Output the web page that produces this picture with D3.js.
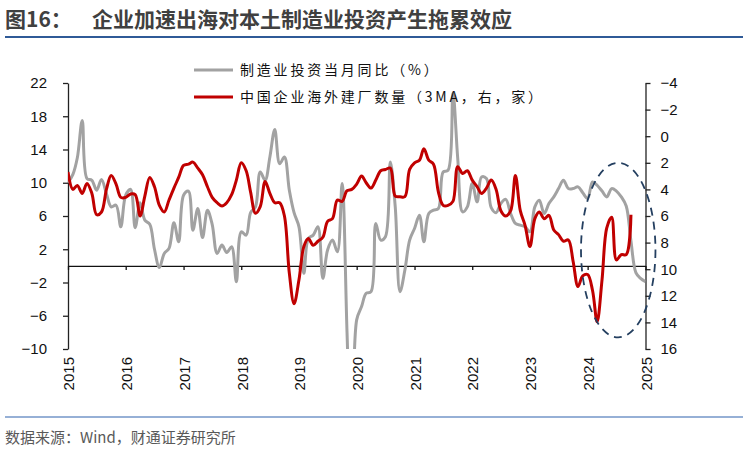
<!DOCTYPE html>
<html>
<head>
<meta charset="utf-8">
<script src="https://cdn.jsdelivr.net/npm/d3@7"></script>
<style>
  body { margin: 0; background: #fff; }
  svg { display: block; }
</style>
</head>
<body>
<script>
// 制造业投资当月同比（%），月度，2015-01 起
var MFG_START = new Date(2015, 0, 1);
var mfgInvest = [
  10.0, 11.0, 13.0, 17.5, 10.5, 10.3, 9.1, 10.4, 8.7, 7.1, 7.3, 4.7,
  8.5, 9.2, 4.6, 7.6, 5.5, 5.0, 2.0, -0.2, 1.5, 2.1, 5.2, 2.9,
  8.5, 9.0, 4.3, 6.9, 3.4, 6.7, 5.0, 1.5, 2.5, 1.6, 2.3, -1.9,
  4.1, 3.7, 6.4, 7.1, 11.3, 10.3, 13.1, 16.4, 12.3, 13.1, 9.1, 6.4,
  4.7, -0.9, 3.3, 3.7, 4.7, -1.5, 1.9, 3.1, 1.7, 9.9, -8.0, -25.0,
  -6.5, -4.9, -3.3, -3.1, 5.1, 3.1, 3.5, 12.5, 7.1, -3.1, -0.5, 3.1,
  4.5, 6.1, 2.9, 6.3, 6.7, 6.9, 11.3, 11.5, 20.8, 13.0, 6.5, 7.1,
  9.9, 7.7, 10.7, 10.5, 7.0, 6.4, 7.5, 8.0, 6.3, 5.1, 4.9, 4.7,
  4.1, 7.1, 7.9, 6.3, 7.5, 8.3, 9.3, 10.3, 9.3, 9.3, 9.5, 8.8,
  8.1, 10.1, 9.7, 9.0, 8.3, 9.3, 9.0, 8.3, 7.2, 3.0, -0.8, -1.5,
  -1.9
];

// 中国企业海外建厂数量（3MA，右轴，家）
var FACTORY_START = new Date(2015, 0, 1);
var overseasFactories = [
  2.7, 4.0, 3.7, 4.3, 3.55, 4.3, 5.9, 5.7, 4.0, 2.95, 3.6, 4.6,
  4.6, 4.35, 4.4, 6.0, 4.5, 3.1, 3.8, 5.2, 5.7, 4.8, 3.9, 3.1,
  2.2, 2.1, 1.95, 2.4, 2.9, 3.8, 4.6, 5.0, 5.25, 5.0, 4.4, 3.3,
  2.0, 2.6, 4.2, 5.8, 5.3, 3.4, 4.3, 5.0, 5.0, 6.0, 10.3, 12.6,
  10.8, 8.3, 7.7, 8.2, 7.9, 7.6, 6.4, 6.2, 4.8, 4.9, 4.1, 4.0,
  3.6, 3.0, 3.5, 3.9, 3.3, 2.6, 2.5, 2.4, 4.5, 4.55, 4.55, 2.5,
  2.0, 1.8, 0.95, 1.8, 2.1, 4.2, 5.2, 5.2, 4.9, 2.3, 2.8, 2.6,
  3.3, 3.8, 4.3, 3.9, 3.3, 4.0, 5.6, 6.0, 5.6, 2.95, 5.6, 6.7,
  8.3, 6.2, 5.7, 6.2, 5.95, 7.05, 7.4, 7.9, 7.8, 9.4, 11.3, 10.5,
  10.4, 11.6, 13.95, 10.8, 6.9, 6.1, 9.3, 8.9, 8.9, 5.9
];

var YEARS = ["2015", "2016", "2017", "2018", "2019", "2020", "2021", "2022", "2023", "2024", "2025"];
var LEFT_TICKS = [22, 18, 14, 10, 6, 2, -2, -6, -10];
var RIGHT_TICKS = [-4, -2, 0, 2, 4, 6, 8, 10, 12, 14, 16];

// 圈注范围（时间、左轴数值）
var HIGHLIGHT_DATES = [new Date(2023, 10, 20), new Date(2025, 2, 5)];
var HIGHLIGHT_VALUES = [12.4, -8.6];

var W = 748, H = 449;
var plot = { left: 68, right: 645.5, top: 83, bottom: 349 };

var svg = d3.select("body").append("svg").attr("width", W).attr("height", H);
svg.append("rect").attr("width", W).attr("height", H).attr("fill", "#fff");

var cjk = "'Noto Sans CJK SC', 'Noto Sans', sans-serif";
var latin = "'Liberation Sans', Arial, sans-serif";

// 标题
svg.append("text").attr("x", 5).attr("y", 27).attr("font-family", cjk).attr("font-weight", "bold")
  .attr("font-size", 21).attr("fill", "#404040").text("图16：");
svg.append("text").attr("x", 92).attr("y", 27).attr("font-family", cjk).attr("font-weight", "bold")
  .attr("font-size", 21).attr("fill", "#404040").text("企业加速出海对本土制造业投资产生拖累效应");
svg.append("line").attr("x1", 5).attr("x2", 743).attr("y1", 37).attr("y2", 37)
  .attr("stroke", "#2f5a97").attr("stroke-width", 2);

// 资料来源
svg.append("line").attr("x1", 5).attr("x2", 743).attr("y1", 417).attr("y2", 417)
  .attr("stroke", "#7396c8").attr("stroke-width", 1.5);
svg.append("text").attr("x", 5).attr("y", 443).attr("font-family", cjk)
  .attr("font-size", 15).attr("fill", "#595959").text("数据来源：Wind，财通证券研究所");

var x = d3.scaleTime().domain([new Date(2015, 0, 1), new Date(2025, 0, 1)]).range([plot.left, plot.right]);
var yL = d3.scaleLinear().domain([-10, 22]).range([plot.bottom, plot.top]);
var yR = d3.scaleLinear().domain([-4, 16]).range([plot.top, plot.bottom]);

var grayData = mfgInvest.map(function (v, i) { return { date: d3.timeMonth.offset(MFG_START, i), value: v }; });
var redData = overseasFactories.map(function (v, i) { return { date: d3.timeMonth.offset(FACTORY_START, i), value: v }; });

// 左轴
var leftAxis = svg.append("g").attr("transform", "translate(" + plot.left + ",0)")
  .call(d3.axisLeft(yL).tickValues(LEFT_TICKS).tickSize(5).tickPadding(16).tickSizeOuter(0));
// 右轴
var rightAxis = svg.append("g").attr("transform", "translate(" + plot.right + ",0)")
  .call(d3.axisRight(yR).tickValues(RIGHT_TICKS).tickSize(5).tickPadding(10).tickSizeOuter(0));
[leftAxis, rightAxis].forEach(function (g) {
  g.select(".domain").attr("stroke", "#222").attr("stroke-width", 1.3);
  g.selectAll(".tick line").attr("stroke", "#222").attr("stroke-width", 1.3);
  g.selectAll(".tick text").attr("font-family", latin).attr("font-size", 15).attr("fill", "#111");
});

// 零线 + 年份刻度
var zeroY = yL(0);
var xAxis = svg.append("g").attr("transform", "translate(0," + zeroY + ")")
  .call(d3.axisBottom(x).tickValues(YEARS.map(function (y) { return new Date(+y, 0, 1); }))
    .tickSize(4).tickSizeOuter(0).tickFormat(""));
xAxis.select(".domain").attr("stroke", "#111").attr("stroke-width", 1.3);
xAxis.selectAll(".tick line").attr("stroke", "#111").attr("stroke-width", 1.3);

svg.append("g").selectAll("text").data(YEARS).enter().append("text")
  .attr("transform", function (d) { return "translate(" + (x(new Date(+d, 0, 1)) + 1) + ",357) rotate(-90)"; })
  .attr("text-anchor", "end").attr("dy", "0.35em")
  .attr("font-family", latin).attr("font-size", 15).attr("fill", "#111")
  .text(function (d) { return d; });

// 折线
svg.append("clipPath").attr("id", "plotClip").append("rect")
  .attr("x", plot.left).attr("y", plot.top).attr("width", plot.right - plot.left).attr("height", plot.bottom - plot.top);

var lineL = d3.line().x(function (d) { return x(d.date); }).y(function (d) { return yL(d.value); })
  .curve(d3.curveCatmullRom.alpha(0.5));
var lineR = d3.line().x(function (d) { return x(d.date); }).y(function (d) { return yR(d.value); })
  .curve(d3.curveCatmullRom.alpha(0.5));

var lines = svg.append("g").attr("clip-path", "url(#plotClip)");
lines.append("path").datum(grayData).attr("d", lineL).attr("fill", "none")
  .attr("stroke", "#a2a2a2").attr("stroke-width", 3).attr("stroke-linejoin", "round");
lines.append("path").datum(redData).attr("d", lineR).attr("fill", "none")
  .attr("stroke", "#c00000").attr("stroke-width", 3).attr("stroke-linejoin", "round");

// 虚线圈注
var ex0 = x(HIGHLIGHT_DATES[0]), ex1 = x(HIGHLIGHT_DATES[1]);
var ey0 = yL(HIGHLIGHT_VALUES[0]), ey1 = yL(HIGHLIGHT_VALUES[1]);
svg.append("ellipse").attr("cx", (ex0 + ex1) / 2).attr("cy", (ey0 + ey1) / 2)
  .attr("rx", (ex1 - ex0) / 2).attr("ry", (ey1 - ey0) / 2)
  .attr("fill", "none").attr("stroke", "#243f60").attr("stroke-width", 1.8).attr("stroke-dasharray", "8,6");

// 图例
var legend = [
  { label: "制造业投资当月同比（%）", color: "#a2a2a2", y: 70 },
  { label: "中国企业海外建厂数量（3MA，右，家）", color: "#c00000", y: 97 }
];
var lg = svg.append("g").selectAll("g").data(legend).enter().append("g");
lg.append("line").attr("x1", 194).attr("x2", 233).attr("y1", function (d) { return d.y; }).attr("y2", function (d) { return d.y; })
  .attr("stroke", function (d) { return d.color; }).attr("stroke-width", 3);
lg.append("text").attr("x", 240).attr("y", function (d) { return d.y; }).attr("dy", "0.36em")
  .attr("font-family", cjk).attr("font-size", 14).attr("letter-spacing", 2.8).attr("fill", "#111")
  .text(function (d) { return d.label; });
</script>
</body>
</html>
